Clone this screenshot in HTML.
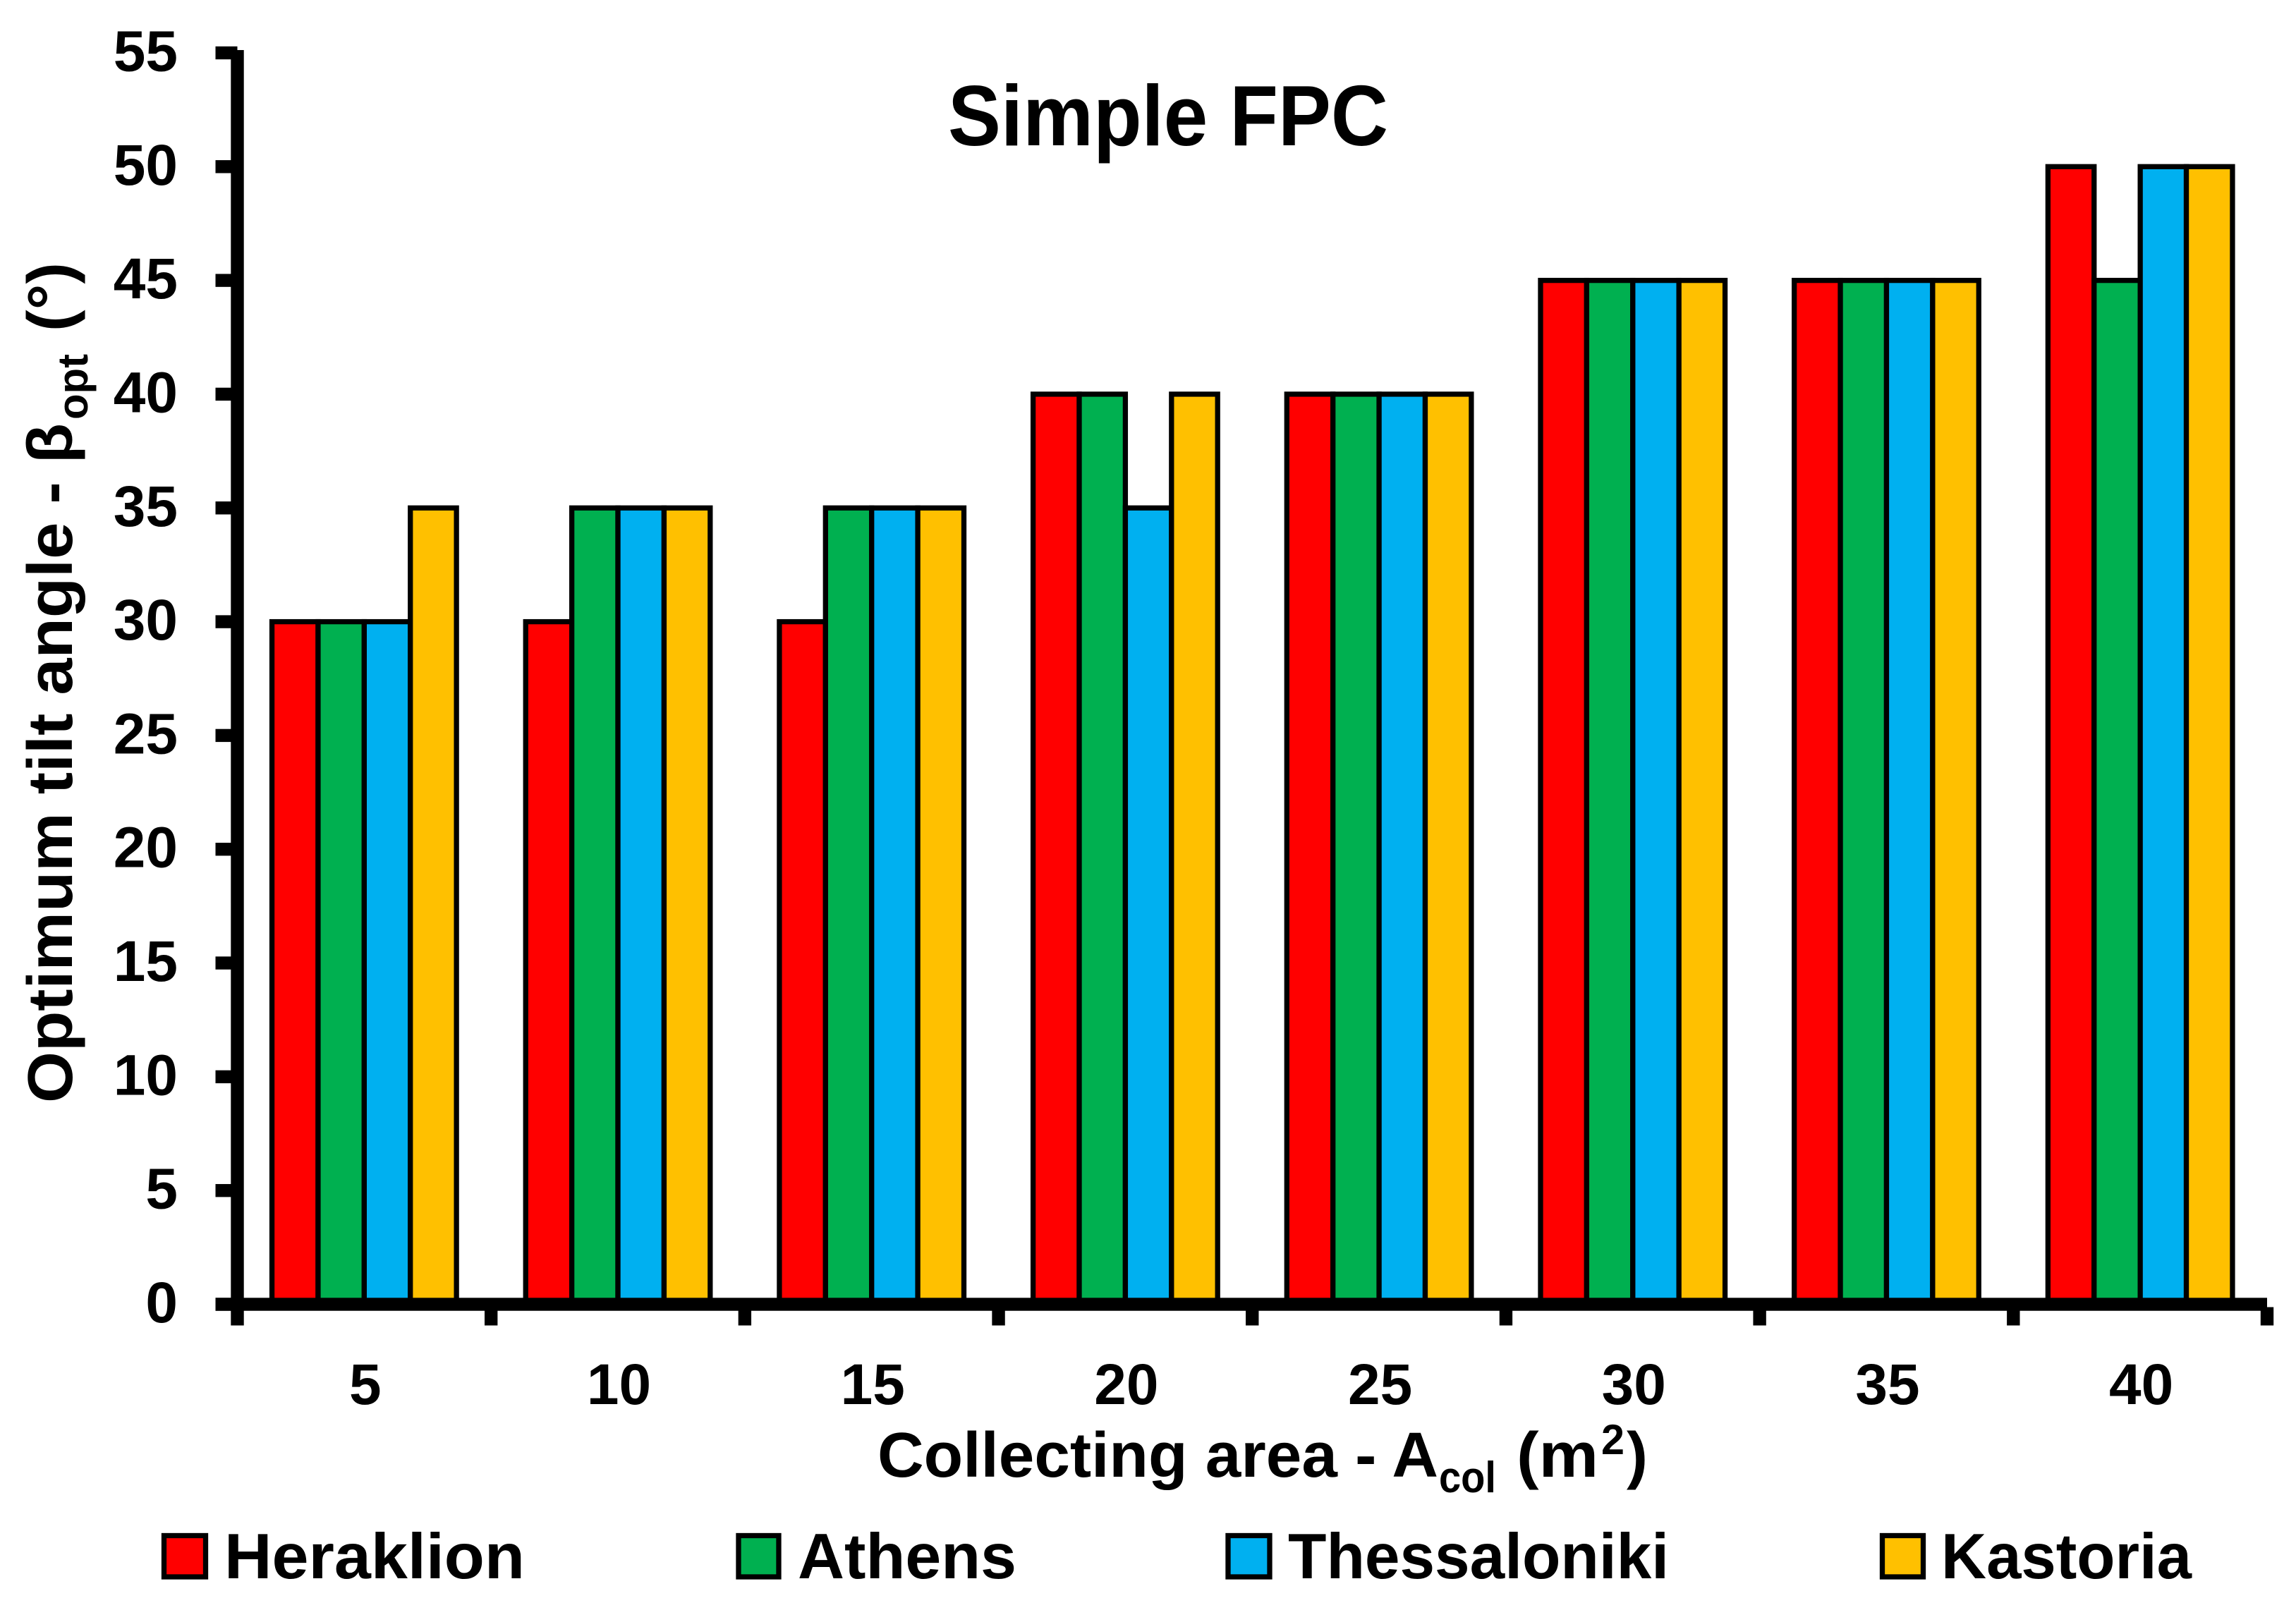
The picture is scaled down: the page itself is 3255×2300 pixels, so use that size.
<!DOCTYPE html>
<html lang="en">
<head>
<meta charset="utf-8">
<title>Simple FPC - Optimum tilt angle</title>
<style>
html,body{margin:0;padding:0;background:#fff;}
svg{display:block;}
text{font-family:"Liberation Sans",sans-serif;font-weight:bold;fill:#000;}
</style>
</head>
<body>
<svg id="chart" xmlns="http://www.w3.org/2000/svg" width="3255" height="2300" viewBox="0 0 3255 2300">
  <rect x="0" y="0" width="3255" height="2300" fill="#fff"/>
  <g id="bars"></g>
  <g id="axes"></g>

  <text x="1344" y="206" font-size="122" textLength="624" lengthAdjust="spacingAndGlyphs">Simple FPC</text>

  <g>
    <text x="1244" y="2094" font-size="90" textLength="795" lengthAdjust="spacingAndGlyphs">Collecting area - A</text>
    <text x="2040" y="2116" font-size="62" textLength="81" lengthAdjust="spacingAndGlyphs">col</text>
    <text x="2150" y="2094" font-size="90" textLength="116" lengthAdjust="spacingAndGlyphs">(m</text>
    <text x="2270" y="2062" font-size="60" textLength="33" lengthAdjust="spacingAndGlyphs">2</text>
    <text x="2306" y="2094" font-size="90" textLength="30" lengthAdjust="spacingAndGlyphs">)</text>
  </g>

  <g>
    <text transform="translate(102 1564) rotate(-90)" x="0" y="0" font-size="90" textLength="964" lengthAdjust="spacingAndGlyphs">Optimum tilt angle - β</text>
    <text transform="translate(124 595) rotate(-90)" x="0" y="0" font-size="60" textLength="93" lengthAdjust="spacingAndGlyphs">opt</text>
    <text transform="translate(102 470) rotate(-90)" x="0" y="0" font-size="90" textLength="98" lengthAdjust="spacingAndGlyphs">(°)</text>
  </g>

  <g>
    <g>
      <rect x="232.5" y="2177.5" width="59" height="58.5" fill="#FF0000" stroke="#000" stroke-width="7.3"/>
      <text x="318" y="2238" font-size="91" textLength="426" lengthAdjust="spacingAndGlyphs">Heraklion</text>
    </g>
    <g>
      <rect x="1047" y="2177.5" width="57" height="58.5" fill="#00B050" stroke="#000" stroke-width="7.3"/>
      <text x="1131" y="2238" font-size="91" textLength="310" lengthAdjust="spacingAndGlyphs">Athens</text>
    </g>
    <g>
      <rect x="1741" y="2177.5" width="59" height="58.5" fill="#00B0F0" stroke="#000" stroke-width="7.3"/>
      <text x="1826" y="2238" font-size="91" textLength="540" lengthAdjust="spacingAndGlyphs">Thessaloniki</text>
    </g>
    <g>
      <rect x="2668.5" y="2177.5" width="58" height="58.5" fill="#FFC000" stroke="#000" stroke-width="7.3"/>
      <text x="2752" y="2238" font-size="91" textLength="355" lengthAdjust="spacingAndGlyphs">Kastoria</text>
    </g>
  </g>
</svg>

<script>
var categories = ["5", "10", "15", "20", "25", "30", "35", "40"];
var yTicks = [0, 5, 10, 15, 20, 25, 30, 35, 40, 45, 50, 55];
var heraklion = [30, 30, 30, 40, 40, 45, 45, 50];
var athens = [30, 35, 35, 40, 40, 45, 45, 45];
var thessaloniki = [30, 35, 35, 35, 40, 45, 45, 50];
var kastoria = [35, 35, 35, 40, 40, 45, 45, 50];
var seriesNames = ["heraklion", "athens", "thessaloniki", "kastoria"];
var seriesColors = ["#FF0000", "#00B050", "#00B0F0", "#FFC000"];
var seriesValues = [heraklion, athens, thessaloniki, kastoria];

var NS = "http://www.w3.org/2000/svg";
var plotLeft = 336.5, plotRight = 3214, plotBottom = 1849.5, unitPx = 32.264, axisW = 18.4;
var gapRatio = 1.5;

function yScale(v) { return plotBottom - v * unitPx; }
function bandWidth() { return (plotRight - plotLeft) / categories.length; }
function xCenter(i) { return plotLeft + bandWidth() * (i + 0.5); }
function barPitch() { return bandWidth() / (seriesValues.length + gapRatio); }
function make(tag, attrs, parent) {
  var el = document.createElementNS(NS, tag);
  for (var k in attrs) { el.setAttribute(k, attrs[k]); }
  parent.appendChild(el);
  return el;
}

var barsG = document.getElementById("bars");
var axesG = document.getElementById("axes");

seriesValues.forEach(function (vals, s) {
  vals.forEach(function (v, i) {
    var p = barPitch();
    var left = xCenter(i) - p * seriesValues.length / 2 + s * p;
    var r = make("rect", {
      x: left, y: yScale(v), width: p, height: plotBottom - yScale(v),
      fill: seriesColors[s], stroke: "#000", "stroke-width": 7.3
    }, barsG);
    
    
  });
});

var yAxisLine = make("rect", {
  x: plotLeft - axisW / 2, y: yScale(55) - 4,
  width: axisW, height: plotBottom + axisW / 2 - yScale(55) + 4, fill: "#000"
}, axesG);



var xAxisLine = make("rect", {
  x: plotLeft - 31, y: plotBottom - axisW / 2,
  width: plotRight - plotLeft + 31, height: axisW, fill: "#000"
}, axesG);



yTicks.forEach(function (t) {
  var y = yScale(t);
  var mark = make("rect", { x: plotLeft - 31, y: y - axisW / 2, width: 31, height: axisW, fill: "#000" }, axesG);
  
  
  var label = make("text", { x: 252, y: y + 25.5, "font-size": 82, "text-anchor": "end" }, axesG);
  label.textContent = String(t);
  
  
});

for (var i = 0; i <= categories.length; i++) {
  var tx = plotLeft + i * bandWidth();
  var xMark = make("rect", { x: tx - axisW / 2, y: plotBottom + 4, width: axisW, height: 26, fill: "#000" }, axesG);
  
  
}

categories.forEach(function (c, i) {
  var label = make("text", { x: xCenter(i) + 1.5, y: 1991, "font-size": 82, "text-anchor": "middle" }, axesG);
  label.textContent = c;
  
  
});
</script>
</body>
</html>
